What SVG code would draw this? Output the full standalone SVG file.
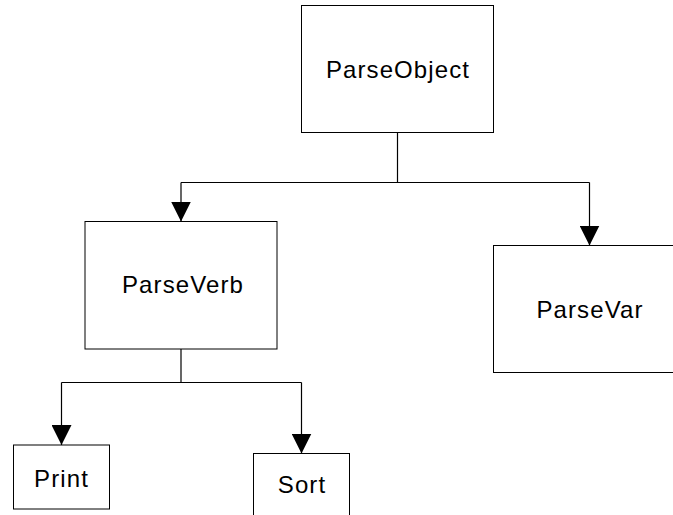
<svg xmlns="http://www.w3.org/2000/svg" width="673" height="515" viewBox="0 0 673 515">
<style>
.box{fill:#fff;stroke:#000;stroke-width:1}
.lbl{font-family:"Liberation Sans",Arial,sans-serif;font-size:24px;letter-spacing:1.1px;fill:#000;text-anchor:middle}
.ln{fill:none;stroke:#000;stroke-width:1.2}
</style>
<defs>
<marker id="ah" viewBox="0 0 20 20" refX="20" refY="10" markerWidth="20" markerHeight="20" markerUnits="userSpaceOnUse" orient="auto">
<path d="M0,0 L20,10 L0,20 Z" fill="#000"/>
</marker>
</defs>
<g id="connectors">
<path class="ln" d="M397.5,132.5 V182.5"/>
<path class="ln" d="M181,182.5 H589.5"/>
<path class="ln" d="M181,182.5 V221.5" marker-end="url(#ah)"/>
<path class="ln" d="M589.5,182.5 V245.5" marker-end="url(#ah)"/>
<path class="ln" d="M181,349 V382.5"/>
<path class="ln" d="M61.5,382.5 H301.5"/>
<path class="ln" d="M61.5,382.5 V445" marker-end="url(#ah)"/>
<path class="ln" d="M301.5,382.5 V453.5" marker-end="url(#ah)"/>
</g>
<g id="ParseObject">
<rect class="box" x="301.5" y="5.5" width="192" height="127"/>
<text class="lbl" x="398" y="77.5">ParseObject</text>
</g>
<g id="ParseVerb">
<rect class="box" x="85" y="221.5" width="192" height="127.5"/>
<text class="lbl" x="183" y="293">ParseVerb</text>
</g>
<g id="ParseVar">
<rect class="box" x="493.5" y="245.5" width="192" height="127"/>
<text class="lbl" x="590" y="318">ParseVar</text>
</g>
<g id="Print">
<rect class="box" x="13.5" y="445" width="96" height="64"/>
<text class="lbl" x="61.5" y="486.5">Print</text>
</g>
<g id="Sort">
<rect class="box" x="253.5" y="453.5" width="96" height="70"/>
<text class="lbl" x="302" y="493">Sort</text>
</g>
</svg>
